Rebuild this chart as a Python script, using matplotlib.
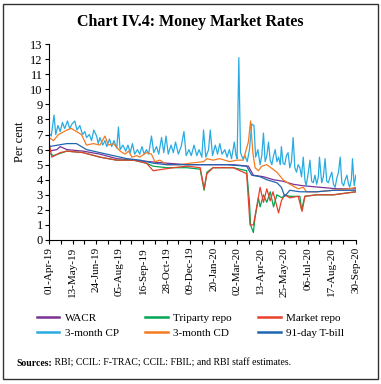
import pandas as pd
import matplotlib
matplotlib.use("Agg")
import matplotlib.pyplot as plt
from matplotlib.patches import Rectangle

plt.rcParams['font.family'] = ['Liberation Serif', 'DejaVu Serif']

start = pd.Timestamp('2019-04-01')

# values, x = days since 01-Apr-19
wacr_days = [0, 14, 20, 32, 61, 91, 121, 151, 180, 210, 246, 282, 329, 356, 365, 383, 401, 418, 436, 454, 484, 514, 548]
wacr = [5.9, 6.0, 6.2, 6.0, 5.9, 5.7, 5.4, 5.3, 5.2, 5.1, 5.0, 5.0, 5.0, 4.9, 4.3, 4.2, 4.0, 3.9, 3.7, 3.6, 3.5, 3.4, 3.4]

tri_days = [0, 8, 32, 61, 91, 121, 151, 174, 186, 210, 246, 270, 277, 282, 293, 329, 353, 358, 360, 365, 368, 374, 377,
            383, 389, 395, 401, 407, 416, 421, 430, 448, 451, 457, 478, 508, 548]
triparty = [5.8, 5.6, 5.9, 5.8, 5.5, 5.3, 5.3, 5.1, 4.9, 4.8, 4.8, 4.7, 3.3, 4.5, 4.8, 4.8, 4.6, 2.5, 1.0, 0.5, 1.5, 2.8, 2.2,
            3.0, 2.5, 3.2, 2.2, 3.0, 2.8, 3.0, 2.9, 2.9, 2.0, 2.9, 3.0, 3.0, 3.2]

mkt_days = [0, 5, 20, 32, 61, 91, 121, 151, 174, 186, 204, 222, 246, 270, 277, 282, 293, 329, 353, 359, 365, 371, 377,
            383, 389, 395, 400, 410, 415, 421, 430, 445, 452, 457, 478, 508, 548]
market_repo = [6.5, 5.5, 5.8, 5.9, 5.8, 5.5, 5.3, 5.3, 5.1, 4.6, 4.7, 4.8, 4.9, 4.8, 3.4, 4.4, 4.8, 4.8, 4.4, 1.0, 1.0, 2.2, 3.5,
               2.5, 3.4, 2.6, 3.2, 1.8, 2.6, 3.0, 2.8, 2.9, 1.9, 2.9, 3.0, 3.0, 3.2]

cp_days = [0, 4, 9, 12, 16, 20, 24, 28, 33, 37, 41, 46, 50, 55, 60, 64, 67, 72, 76, 80, 85, 88, 91, 96, 100, 103, 108,
           112, 116, 121, 124, 127, 132, 137, 141, 145, 149, 153, 158, 162, 166, 170, 174, 178, 183, 187, 192, 196, 201,
           205, 209, 213, 218, 222, 226, 231, 236, 241, 245, 250, 254, 259, 264, 268, 273, 276, 280, 285, 288, 292, 297,
           301, 305, 309, 314, 318, 322, 326, 331, 334, 336, 339, 342, 346, 350, 354, 358, 362, 366, 369, 373, 377, 380,
           383, 386, 389, 392, 395, 398, 401, 404, 407, 410, 413, 415, 418, 421, 424, 427, 430, 433, 436, 439, 442, 445,
           448, 451, 454, 457, 459, 462, 466, 469, 472, 475, 478, 481, 483, 487, 490, 493, 496, 499, 502, 505, 508, 511,
           514, 517, 520, 523, 526, 529, 532, 535, 537, 540, 542, 545, 548]
cp = [7.1, 6.9, 8.3, 7.0, 7.6, 7.2, 7.8, 7.4, 7.9, 7.4, 7.7, 7.9, 7.3, 7.6, 7.0, 7.2, 6.8, 7.0, 6.6, 7.3, 6.9, 6.4, 6.8,
      6.3, 6.6, 6.2, 6.7, 6.2, 6.6, 6.1, 7.5, 6.0, 6.3, 5.9, 6.3, 5.8, 6.4, 5.7, 6.0, 5.7, 6.2, 5.7, 6.0, 5.7, 6.9, 5.8,
      6.2, 5.7, 6.8, 5.8, 6.9, 5.7, 6.3, 5.8, 6.5, 5.7, 6.2, 7.2, 5.6, 6.0, 5.6, 6.3, 5.6, 6.0, 5.5, 7.3, 5.5, 6.0, 7.3,
      5.6, 6.3, 5.7, 6.4, 5.7, 6.0, 5.5, 6.0, 5.4, 6.5, 5.6, 5.4, 12.1, 5.8, 5.4, 5.6, 5.2, 6.0, 7.7, 7.6, 5.5, 6.0,
      5.0, 5.6, 7.1, 5.2, 5.6, 6.5, 5.3, 5.0, 5.6, 6.0, 5.2, 5.5, 5.0, 6.2, 5.1, 5.0, 5.6, 5.8, 4.8, 5.2, 6.8, 4.8,
      4.5, 5.0, 4.8, 4.2, 5.5, 4.0, 3.6, 4.2, 5.3, 3.9, 3.8, 4.3, 3.7, 4.2, 5.5, 3.8, 4.2, 5.4, 3.9, 3.8, 4.2, 4.5,
      3.7, 3.5, 4.1, 4.5, 5.5, 3.8, 3.6, 4.0, 4.3, 3.7, 3.5, 4.0, 5.4, 3.6, 4.3]

cd_days = [0, 8, 17, 32, 40, 49, 58, 67, 79, 91, 100, 106, 115, 127, 136, 142, 148, 157, 162, 174, 183, 189, 198, 210, 234,
           252, 276, 282, 293, 305, 323, 335, 347, 356, 360, 364, 368, 374, 380, 389, 407, 418, 430, 445, 454, 460, 478,
           508, 537, 548]
cd = [6.8, 6.6, 7.0, 7.3, 7.4, 7.2, 7.0, 6.3, 6.4, 6.3, 6.9, 6.3, 6.4, 5.9, 5.7, 5.9, 5.5, 5.6, 5.5, 5.8, 5.7, 5.2, 5.3, 5.0, 5.0,
      5.1, 5.2, 5.4, 5.3, 5.4, 5.2, 5.3, 5.3, 6.5, 7.9, 5.8, 4.8, 4.6, 4.9, 5.0, 4.5, 4.0, 3.7, 3.4, 3.5, 3.2, 3.2,
      3.3, 3.4, 3.5]

tb_days = [0, 32, 49, 67, 91, 115, 139, 163, 186, 210, 246, 282, 317, 353, 362, 377, 389, 407, 415, 421, 430, 448, 478, 508, 548]
tbill = [6.2, 6.4, 6.4, 6.0, 5.8, 5.6, 5.4, 5.3, 5.1, 5.0, 5.0, 5.0, 5.0, 4.9, 4.3, 4.2, 4.0, 3.8, 3.5, 2.9, 3.3, 3.2, 3.2, 3.3, 3.3]

fig = plt.figure(figsize=(3.81, 3.84), dpi=100)
ax = fig.add_axes([0.1286, 0.375, 0.8054, 0.51])

l1, = ax.plot(wacr_days, wacr, color='#7B3294', lw=0.9, label='WACR')
l2, = ax.plot(tri_days, triparty, color='#00A651', lw=0.9, label='Triparty repo')
l3, = ax.plot(mkt_days, market_repo, color='#E8402A', lw=0.9, label='Market repo')
l4, = ax.plot(cp_days, cp, color='#29ABE2', lw=0.9, label='3-month CP')
l5, = ax.plot(cd_days, cd, color='#F47B20', lw=0.9, label='3-month CD')
l6, = ax.plot(tb_days, tbill, color='#1F66B1', lw=0.9, label='91-day T-bill')

ax.set_xlim(0, 548)
ax.set_ylim(0, 13)
ax.set_yticks(range(0, 14))
ax.tick_params(axis='y', labelsize=9, length=3, width=0.8, pad=1.5)

major = list(range(0, 505, 42)) + [548]
ax.set_xticks(major)
ax.set_xticklabels([(start + pd.Timedelta(days=d)).strftime('%d-%b-%y') for d in major], rotation=90)
ax.set_xticks(list(range(21, 526, 42)), minor=True)
ax.tick_params(axis='x', which='both', labelsize=8, length=3, width=0.8, pad=2)
ax.set_ylabel('Per cent', fontsize=9, labelpad=3)

for s in ['top', 'right']:
    ax.spines[s].set_visible(False)
for s in ['left', 'bottom']:
    ax.spines[s].set_linewidth(0.8)

fig.text(0.5, 0.943, 'Chart IV.4: Money Market Rates', ha='center', va='center', fontsize=11.5, fontweight='bold')

order = [l1, l4, l2, l5, l3, l6]
leg = fig.legend(order, [h.get_label() for h in order],
                 ncol=3, loc='center', bbox_to_anchor=(0.5, 0.152), frameon=False, fontsize=8,
                 handlelength=2.0, handletextpad=0.5, columnspacing=2.4, labelspacing=0.45)
for line in leg.get_lines():
    line.set_linewidth(1.8)

t1 = fig.text(0.042, 0.047, 'Sources:', fontsize=7, fontweight='bold', va='baseline')
ax.annotate(' RBI; CCIL: F-TRAC; CCIL: FBIL; and RBI staff estimates.', xy=(1, 0), xycoords=t1,
            va='bottom', ha='left', fontsize=7, annotation_clip=False)

fig.patches.append(Rectangle((3 / 381, 5 / 384), 375 / 381, 375 / 384, transform=fig.transFigure,
                             fill=False, edgecolor='#333333', lw=1.0))

fig.savefig('out.png', dpi=100)
